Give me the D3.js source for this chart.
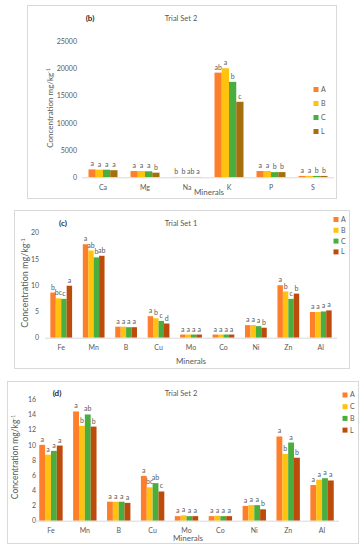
<!DOCTYPE html>
<html>
<head>
<meta charset="utf-8">
<script src="https://cdn.jsdelivr.net/npm/d3@7"></script>
<style>
  body { margin: 0; background: #fff; }
  svg { display: block; font-family: Lato, "Liberation Sans", sans-serif; }
</style>
</head>
<body>
<svg id="chart" width="363" height="550"></svg>
<script>
// panel (b) - trial set 2, macro minerals
let bMinerals = ["Ca", "Mg", "Na", "K", "P", "S"];
let bSeries = ["A", "B", "C", "L"];
let bA = [1450, 1150, 60, 19200, 1150, 250];
let bB = [1400, 1150, 60, 20000, 1150, 250];
let bC = [1400, 1100, 60, 17500, 950, 250];
let bL = [1300, 850, 60, 13850, 950, 250];
let bLetA = ["a", "a", "b", "ab", "a", "a"];
let bLetB = ["a", "a", "b", "a", "a", "a"];
let bLetC = ["a", "a", "ab", "b", "b", "b"];
let bLetL = ["a", "b", "a", "c", "b", "b"];
let bTicks = [0, 5000, 10000, 15000, 20000, 25000];

// panel (c) - trial set 1, trace minerals
let traceMinerals = ["Fe", "Mn", "B", "Cu", "Mo", "Co", "Ni", "Zn", "Al"];
let cSeries = ["A", "B", "C", "L"];
let cA = [8.6, 17.8, 2.1, 4.1, 0.6, 0.6, 2.4, 10.0, 4.9];
let cB = [7.5, 16.6, 2.1, 3.7, 0.6, 0.6, 2.4, 8.8, 4.9];
let cC = [7.4, 15.3, 2.0, 3.2, 0.6, 0.6, 2.2, 7.4, 5.0];
let cL = [9.9, 15.6, 2.0, 2.7, 0.6, 0.6, 1.9, 8.4, 5.2];
let cLetA = ["b", "a", "a", "a", "a", "a", "a", "a", "a"];
let cLetB = ["bc", "ab", "a", "b", "a", "a", "a", "b", "a"];
let cLetC = ["c", "b", "a", "c", "a", "a", "a", "c", "a"];
let cLetL = ["a", "ab", "a", "d", "a", "a", "b", "b", "a"];
let cTicks = [0, 5, 10, 15, 20];

// panel (d) - trial set 2, trace minerals (legend order A, C, B, L)
let dSeries = ["A", "C", "B", "L"];
let dA = [10.0, 14.4, 2.5, 5.9, 0.6, 0.6, 1.95, 11.1, 4.7];
let dC = [8.7, 12.5, 2.5, 4.4, 0.7, 0.65, 2.05, 8.8, 5.4];
let dB = [9.2, 14.0, 2.5, 4.95, 0.6, 0.6, 2.05, 10.3, 5.6];
let dL = [9.9, 12.4, 2.35, 3.85, 0.6, 0.6, 1.5, 8.3, 5.3];
let dLetA = ["a", "a", "a", "a", "a", "a", "a", "a", "a"];
let dLetC = ["a", "b", "a", "bc", "a", "a", "a", "b", "a"];
let dLetB = ["a", "ab", "a", "ab", "a", "a", "a", "a", "a"];
let dLetL = ["a", "b", "a", "c", "a", "a", "b", "b", "a"];
let dTicks = [0, 2, 4, 6, 8, 10, 12, 14, 16];

let orange = "#fd7f2c";
let yellow = "#ffc20e";
let green = "#4aad3f";
let brown = "#a46f0c";
let rust = "#bd4b0b";
let textGray = "#595959";

let svg = d3.select("#chart");

drawPanel({
  box: [27, 5, 336, 198],
  tag: "(b)", tagX: 90, title: "Trial Set 2", titleY: 18,
  categories: bMinerals, series: bSeries,
  values: [bA, bB, bC, bL], letters: [bLetA, bLetB, bLetC, bLetL],
  colors: [orange, yellow, green, brown],
  ticks: bTicks, yRange: [177.3, 41], xRange: [82, 334], pad: 0.31,
  tickX: 77, catY: 188, axisTitleX: 50, axisTitleY: 108, axisTitleSize: 8,
  xTitle: [209, 192],
  legendX: 316, legendY: 89.5, legendStep: 14
});

drawPanel({
  box: [14, 210, 349, 368],
  tag: "(c)", tagX: 63, title: "Trial Set 1", titleY: 223,
  categories: traceMinerals, series: cSeries,
  values: [cA, cB, cC, cL], letters: [cLetA, cLetB, cLetC, cLetL],
  colors: [orange, yellow, green, rust],
  ticks: cTicks, yRange: [337.7, 232.7], xRange: [45, 337], pad: 0.33,
  tickX: 39, catY: 348, axisTitleX: 25, axisTitleY: 283, axisTitleSize: 9,
  xTitle: [191, 361],
  legendX: 336, legendY: 219.5, legendStep: 10.8
});

drawPanel({
  box: [7, 381, 358, 543],
  tag: "(d)", tagX: 57, title: "Trial Set 2", titleY: 393,
  categories: traceMinerals, series: dSeries,
  values: [dA, dC, dB, dL], letters: [dLetA, dLetC, dLetB, dLetL],
  colors: [orange, yellow, green, rust],
  ticks: dTicks, yRange: [520.7, 399.3], xRange: [34, 339], pad: 0.31,
  tickX: 36, catY: 531, axisTitleX: 15, axisTitleY: 457, axisTitleSize: 8.5,
  xTitle: [188, 538.5],
  legendX: 345, legendY: 395, legendStep: 11.7
});

function drawPanel(p) {
  let g = svg.append("g");
  let [x0, y0, x1, y1] = p.box;

  g.append("rect")
    .attr("x", x0 + 0.5).attr("y", y0 + 0.5)
    .attr("width", x1 - x0).attr("height", y1 - y0)
    .attr("fill", "#fff").attr("stroke", "#d9d9d9");

  let y = d3.scaleLinear()
    .domain([p.ticks[0], p.ticks[p.ticks.length - 1]])
    .range(p.yRange);
  let x = d3.scaleBand()
    .domain(p.categories)
    .range(p.xRange)
    .paddingInner(p.pad)
    .paddingOuter(p.pad / 2);
  let xs = d3.scaleBand()
    .domain(p.series)
    .range([0, x.bandwidth()]);

  // value axis labels (no line, no gridlines)
  let yAxis = d3.axisLeft(y)
    .tickValues(p.ticks)
    .tickFormat(d3.format("d"))
    .tickSize(0)
    .tickPadding(0);
  g.append("g")
    .attr("transform", `translate(${p.tickX},0)`)
    .call(yAxis)
    .call(a => a.select(".domain").remove())
    .selectAll("text")
    .attr("fill", textGray)
    .attr("font-size", 7)
    .attr("font-family", "Lato, sans-serif");

  // category axis
  let xAxis = d3.axisBottom(x).tickSize(0).tickPadding(0);
  let xg = g.append("g")
    .attr("transform", `translate(0,${y(0)})`)
    .call(xAxis);
  xg.select(".domain").remove();
  xg.selectAll("text")
    .attr("y", p.catY - y(0))
    .attr("dy", "0.35em")
    .attr("fill", textGray)
    .attr("font-size", 7)
    .attr("font-family", "Lato, sans-serif");

  // bars + letters
  p.series.forEach((s, si) => {
    let sg = g.append("g");
    sg.selectAll("rect")
      .data(p.categories)
      .enter()
      .append("rect")
      .attr("x", c => x(c) + xs(s))
      .attr("y", (c, i) => y(p.values[si][i]))
      .attr("width", xs.bandwidth())
      .attr("height", (c, i) => y(0) - y(p.values[si][i]))
      .attr("fill", p.colors[si]);
    sg.selectAll("text")
      .data(p.categories)
      .enter()
      .append("text")
      .attr("x", c => x(c) + xs(s) + xs.bandwidth() / 2)
      .attr("y", (c, i) => y(p.values[si][i]) - 3)
      .attr("text-anchor", "middle")
      .attr("fill", textGray)
      .attr("font-size", 7)
      .text((c, i) => p.letters[si][i]);
  });

  g.append("line")
    .attr("x1", p.xRange[0]).attr("x2", p.xRange[1])
    .attr("y1", y(0) + 0.5).attr("y2", y(0) + 0.5)
    .attr("stroke", "#d9d9d9");

  // titles
  g.append("text")
    .attr("x", 181).attr("y", p.titleY).attr("dy", "0.35em")
    .attr("text-anchor", "middle").attr("font-size", 7.5)
    .attr("fill", textGray).text(p.title);
  g.append("text")
    .attr("x", p.tagX).attr("y", p.titleY).attr("dy", "0.35em")
    .attr("text-anchor", "middle").attr("font-size", 8)
    .attr("font-weight", "bold").attr("fill", "#262626").text(p.tag);

  let yt = g.append("text")
    .attr("transform", `translate(${p.axisTitleX},${p.axisTitleY}) rotate(-90)`)
    .attr("text-anchor", "middle").attr("dy", "0.35em")
    .attr("font-size", p.axisTitleSize).attr("fill", textGray);
  yt.append("tspan").text("Concentration mg/kg");
  yt.append("tspan").attr("font-size", p.axisTitleSize * 0.6)
    .attr("dy", "-0.5em").text("-1");

  g.append("text")
    .attr("x", p.xTitle[0]).attr("y", p.xTitle[1]).attr("dy", "0.35em")
    .attr("text-anchor", "middle").attr("font-size", 8)
    .attr("fill", textGray).text("Minerals");

  // legend
  let lg = g.append("g");
  p.series.forEach((s, si) => {
    let ly = p.legendY + si * p.legendStep;
    lg.append("rect")
      .attr("x", p.legendX - 2.5).attr("y", ly - 2.5)
      .attr("width", 5).attr("height", 5)
      .attr("fill", p.colors[si]);
    lg.append("text")
      .attr("x", p.legendX + 5).attr("y", ly).attr("dy", "0.35em")
      .attr("font-size", 7).attr("fill", textGray).text(s);
  });
}
</script>
</body>
</html>
